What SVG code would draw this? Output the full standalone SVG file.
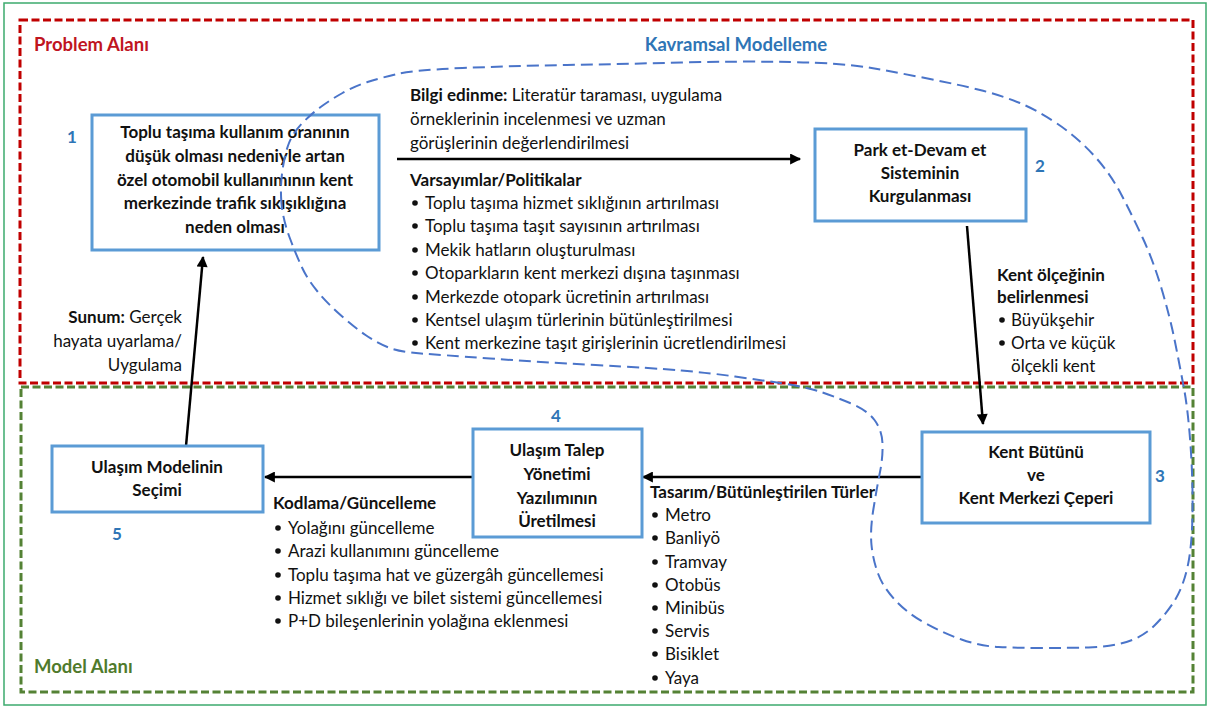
<svg xmlns="http://www.w3.org/2000/svg" width="1209" height="707" viewBox="0 0 1209 707">
  <defs>
    <marker id="arrow" viewBox="0 0 10 10" refX="9" refY="5" markerWidth="5" markerHeight="4.4" orient="auto" markerUnits="strokeWidth">
      <path d="M0,0 L10,5 L0,10 Z" fill="#000"/>
    </marker>
    <style>
      text { font-family: Lato, "Open Sans", "Liberation Sans", sans-serif; fill: #111; }
      .body { font-size: 17px; }
      .b { font-weight: bold; }
      .title { font-size: 18.5px; font-weight: bold; }
      .box { fill: #fff; stroke: #5b9bd5; stroke-width: 3; }
      .boxtxt { font-size: 17px; font-weight: bold; text-anchor: middle; }
      .num { font-size: 17px; font-weight: bold; fill: #2e75b6; text-anchor: middle; }
      .area { fill: none; stroke-width: 3; stroke-dasharray: 8 3.5; }
      .conn { stroke: #000; stroke-width: 2.5; fill: none; }
      .dot { fill: #111; }
    </style>
  </defs>

  <!-- page frame -->
  <rect x="0" y="0" width="1209" height="707" fill="#fff"/>
  <rect x="4" y="3" width="1202" height="702" fill="none" stroke="#3daa6e" stroke-width="1.5"/>

  <!-- areas -->
  <g id="problem-area">
    <rect class="area" x="20" y="20" width="1173" height="363" stroke="#c00000"/>
    <text x="34" y="51" class="title" style="fill:#c0151f">Problem Alanı</text>
  </g>
  <g id="model-area">
    <rect class="area" x="21" y="387" width="1172" height="305" stroke="#548235"/>
    <text x="34" y="673" class="title" style="fill:#4f7a2c">Model Alanı</text>
  </g>

  <!-- connectors -->
  <g id="connectors">
    <line class="conn" x1="397" y1="159" x2="800" y2="159" marker-end="url(#arrow)"/>
    <line class="conn" x1="967" y1="226" x2="983" y2="424" marker-end="url(#arrow)"/>
    <line class="conn" x1="922" y1="477" x2="643" y2="477" marker-end="url(#arrow)"/>
    <line class="conn" x1="473" y1="477" x2="265" y2="477" marker-end="url(#arrow)"/>
    <line class="conn" x1="186" y1="446" x2="203" y2="257" marker-end="url(#arrow)"/>
  </g>

  <!-- node 1 -->
  <g id="node-1">
    <rect class="box" x="92" y="115" width="287" height="135"/>
    <text class="boxtxt" x="235" y="138">Toplu taşıma kullanım oranının</text>
    <text class="boxtxt" x="235" y="162">düşük olması nedeniyle artan</text>
    <text class="boxtxt" x="235" y="186">özel otomobil kullanımının kent</text>
    <text class="boxtxt" x="235" y="209">merkezinde trafik sıkışıklığına</text>
    <text class="boxtxt" x="235" y="233">neden olması</text>
    <text class="num" x="72" y="143">1</text>
  </g>

  <!-- node 2 -->
  <g id="node-2">
    <rect class="box" x="815" y="129" width="211" height="92"/>
    <text class="boxtxt" x="920" y="156">Park et-Devam et</text>
    <text class="boxtxt" x="920" y="179">Sisteminin</text>
    <text class="boxtxt" x="920" y="202">Kurgulanması</text>
    <text class="num" x="1040" y="172">2</text>
  </g>

  <!-- node 3 -->
  <g id="node-3">
    <rect class="box" x="922" y="432" width="228" height="91"/>
    <text class="boxtxt" x="1036" y="458">Kent Bütünü</text>
    <text class="boxtxt" x="1036" y="481">ve</text>
    <text class="boxtxt" x="1036" y="504">Kent Merkezi Çeperi</text>
    <text class="num" x="1160" y="482">3</text>
  </g>

  <!-- node 4 -->
  <g id="node-4">
    <rect class="box" x="473" y="429" width="169" height="108"/>
    <text class="boxtxt" x="557" y="456">Ulaşım Talep</text>
    <text class="boxtxt" x="557" y="480">Yönetimi</text>
    <text class="boxtxt" x="557" y="504">Yazılımının</text>
    <text class="boxtxt" x="557" y="527">Üretilmesi</text>
    <text class="num" x="556" y="422">4</text>
  </g>

  <!-- node 5 -->
  <g id="node-5">
    <rect class="box" x="52" y="446" width="211" height="66"/>
    <text class="boxtxt" x="157" y="473">Ulaşım Modelinin</text>
    <text class="boxtxt" x="157" y="496">Seçimi</text>
    <text class="num" x="117" y="540">5</text>
  </g>

  <!-- label: information gathering and assumptions -->
  <g id="label-policies" class="body">
    <text x="410" y="101"><tspan class="b">Bilgi edinme:</tspan> Literatür taraması, uygulama</text>
    <text x="410" y="125">örneklerinin incelenmesi ve uzman</text>
    <text x="410" y="149">görüşlerinin değerlendirilmesi</text>
    <text x="410" y="186" class="b">Varsayımlar/Politikalar</text>
    <circle class="dot" cx="415" cy="203" r="2.8"/><text x="425" y="209">Toplu taşıma hizmet sıklığının artırılması</text>
    <circle class="dot" cx="415" cy="226" r="2.8"/><text x="425" y="232">Toplu taşıma taşıt sayısının artırılması</text>
    <circle class="dot" cx="415" cy="250" r="2.8"/><text x="425" y="256">Mekik hatların oluşturulması</text>
    <circle class="dot" cx="415" cy="273" r="2.8"/><text x="425" y="279">Otoparkların kent merkezi dışına taşınması</text>
    <circle class="dot" cx="415" cy="297" r="2.8"/><text x="425" y="303">Merkezde otopark ücretinin artırılması</text>
    <circle class="dot" cx="415" cy="320" r="2.8"/><text x="425" y="326">Kentsel ulaşım türlerinin bütünleştirilmesi</text>
    <circle class="dot" cx="415" cy="343" r="2.8"/><text x="425" y="349">Kent merkezine taşıt girişlerinin ücretlendirilmesi</text>
  </g>

  <!-- label: city scale -->
  <g id="label-scale" class="body">
    <text x="997" y="281" class="b">Kent ölçeğinin</text>
    <text x="997" y="303" class="b">belirlenmesi</text>
    <circle class="dot" cx="1002" cy="320" r="2.8"/><text x="1011" y="326">Büyükşehir</text>
    <circle class="dot" cx="1002" cy="343" r="2.8"/><text x="1011" y="349">Orta ve küçük</text>
    <text x="1011" y="372">ölçekli kent</text>
  </g>

  <!-- label: presentation -->
  <g id="label-presentation" class="body" text-anchor="end">
    <text x="182" y="323"><tspan class="b">Sunum:</tspan> Gerçek</text>
    <text x="182" y="347">hayata uyarlama/</text>
    <text x="182" y="371">Uygulama</text>
  </g>

  <!-- label: coding / updating -->
  <g id="label-coding" class="body">
    <text x="273" y="509" class="b">Kodlama/Güncelleme</text>
    <circle class="dot" cx="278" cy="528" r="2.8"/><text x="288" y="534">Yolağını güncelleme</text>
    <circle class="dot" cx="278" cy="551" r="2.8"/><text x="288" y="557">Arazi kullanımını güncelleme</text>
    <circle class="dot" cx="278" cy="575" r="2.8"/><text x="288" y="581">Toplu taşıma hat ve güzergâh güncellemesi</text>
    <circle class="dot" cx="278" cy="598" r="2.8"/><text x="288" y="604">Hizmet sıklığı ve bilet sistemi güncellemesi</text>
    <circle class="dot" cx="278" cy="621" r="2.8"/><text x="288" y="627">P+D bileşenlerinin yolağına eklenmesi</text>
  </g>

  <!-- label: integrated modes -->
  <g id="label-modes" class="body">
    <text x="650" y="498" class="b">Tasarım/Bütünleştirilen Türler</text>
    <circle class="dot" cx="655" cy="515" r="2.8"/><text x="665" y="521">Metro</text>
    <circle class="dot" cx="655" cy="538" r="2.8"/><text x="665" y="544">Banliyö</text>
    <circle class="dot" cx="655" cy="562" r="2.8"/><text x="665" y="568">Tramvay</text>
    <circle class="dot" cx="655" cy="585" r="2.8"/><text x="665" y="591">Otobüs</text>
    <circle class="dot" cx="655" cy="608" r="2.8"/><text x="665" y="614">Minibüs</text>
    <circle class="dot" cx="655" cy="631" r="2.8"/><text x="665" y="637">Servis</text>
    <circle class="dot" cx="655" cy="654" r="2.8"/><text x="665" y="660">Bisiklet</text>
    <circle class="dot" cx="655" cy="678" r="2.8"/><text x="665" y="684">Yaya</text>
  </g>

  <!-- conceptual modelling outline, drawn over the nodes -->
  <g id="conceptual-modelling">
    <path fill="none" stroke="#4a74c9" stroke-width="2" stroke-dasharray="12 6"
      d="M281.5,203.5 Q280,187 282.5,170 Q285,153 289,143 Q293,133 301.5,124 Q310,115 320,107.5 Q330,100 342.5,93 Q355,86 367.5,82 Q380,78 397.5,74 Q415,70 462.5,68 Q510,66 567,65 Q624,64 681.5,62.5 Q739,61 791,62 Q843,63 871.5,68 Q900,73 930,79 Q960,85 980,90 Q1000,95 1018.5,102.5 Q1037,110 1057,123.5 Q1077,137 1093.5,155 Q1110,173 1121,194 Q1132,215 1142.5,237.5 Q1153,260 1161.5,288.5 Q1170,317 1175,342 Q1180,367 1184,388.5 Q1188,410 1190.5,445 Q1193,480 1192.5,513.5 Q1192,547 1187.5,567 Q1183,587 1175,600 Q1167,613 1155,625 Q1143,637 1126.5,642 Q1110,647 1088.5,647.5 Q1067,648 1042,648 Q1017,648 998.5,647 Q980,646 961.5,639.5 Q943,633 925,623 Q907,613 895,600 Q883,587 878,573.5 Q873,560 871.5,545 Q870,530 873.5,508.5 Q877,487 880,472 Q883,457 882.5,443.5 Q882,430 874.5,420 Q867,410 850,403 Q833,396 819.5,391.5 Q806,387 783,383.5 Q760,380 735,376.5 Q710,373 681.5,370.5 Q653,368 595.5,365 Q538,362 490,358.5 Q442,355 421,353.5 Q400,352 388.5,347.5 Q377,343 365.5,335 Q354,327 340.5,315 Q327,303 317.5,291.5 Q308,280 302.5,268.5 Q297,257 290,238.5 Q283,220 281.5,203.5 Z"/>
    <text x="736" y="51" class="title" text-anchor="middle" style="fill:#2e75b6">Kavramsal Modelleme</text>
  </g>
</svg>
